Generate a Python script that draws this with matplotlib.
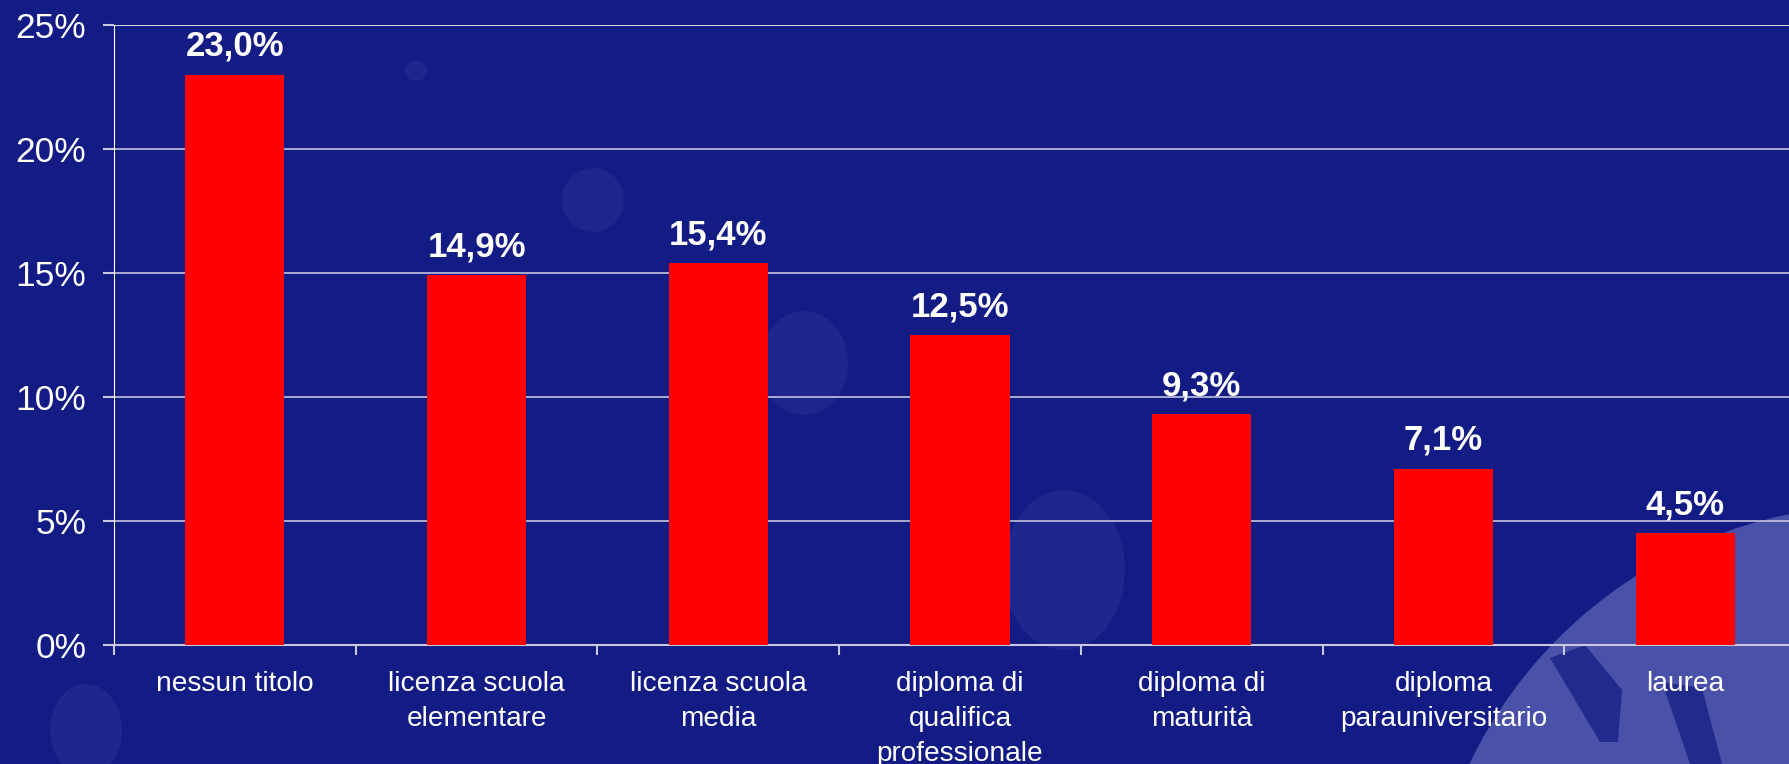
import matplotlib.pyplot as plt
import numpy as np
from matplotlib.patches import Ellipse, Polygon, Circle

categories = ['nessun titolo', 'licenza scuola\nelementare', 'licenza scuola\nmedia',
              'diploma di\nqualifica\nprofessionale', 'diploma di\nmaturità',
              'diploma\nparauniversitario', 'laurea']
values = [23.0, 14.9, 15.4, 12.5, 9.3, 7.1, 4.5]
labels = ['23,0%', '14,9%', '15,4%', '12,5%', '9,3%', '7,1%', '4,5%']
yticks = [0, 5, 10, 15, 20, 25]
ytick_labels = ['0%', '5%', '10%', '15%', '20%', '25%']

bg = '#131B84'
plt.rcParams['font.family'] = ['Liberation Sans', 'DejaVu Sans']

W, H = 1789, 764
fig = plt.figure(figsize=(W / 100, H / 100), dpi=100, facecolor=bg)

# background decoration (pixel coords)
bga = fig.add_axes([0, 0, 1, 1], zorder=0)
bga.set_xlim(0, W)
bga.set_ylim(H, 0)
bga.axis('off')
bga.set_facecolor(bg)
for (cx, cy, w, h) in [(416, 71, 22, 20), (593, 200, 62, 64), (804, 363, 88, 104),
                       (1064, 570, 122, 160), (86, 730, 72, 92)]:
    bga.add_patch(Ellipse((cx, cy), w, h, color='#1E278E', lw=0))
# globe / gear at bottom right
bga.add_patch(Circle((1880, 960), 455, color='#4A51A8', lw=0))
bga.add_patch(Polygon([(1550, 658), (1585, 645), (1622, 690), (1618, 742), (1600, 742)],
                      closed=True, color='#232A8E', lw=0))
bga.add_patch(Polygon([(1662, 682), (1702, 688), (1722, 764), (1690, 764)],
                      closed=True, color='#232A8E', lw=0))

ax = fig.add_axes([114 / W, 1 - 645 / H, 1692 / W, 620 / H], zorder=1)
ax.patch.set_alpha(0)
x = np.arange(len(values))
ax.bar(x, values, width=0.41, color='#FF0000', zorder=3)
for xi, v, lab in zip(x, values, labels):
    ax.annotate(lab, (xi, v), xytext=(0, 20.5), textcoords='offset points',
                ha='center', va='center', color='white', fontsize=25, fontweight='bold')

ax.set_xlim(-0.5, 6.5)
ax.set_ylim(0, 25)
ax.set_yticks(yticks)
ax.set_yticklabels(ytick_labels)
ax.set_xticks(np.arange(-0.5, 7, 1))
ax.set_xticklabels([])
ax.set_xticks(x, minor=True)
ax.set_xticklabels(categories, minor=True, linespacing=1.45)
ax.tick_params(axis='x', which='minor', length=0, pad=19, labelsize=20.2, labelcolor='white')
ax.tick_params(axis='x', which='major', length=7, color='#C8C8E0', width=1.5)
ax.tick_params(axis='y', length=8, color='#C8C8E0', width=1.5, pad=12,
               labelsize=25.5, labelcolor='white')
for t in yticks[1:]:
    ax.axhline(t, color='white' if t == 25 else '#C4C4DE', lw=1.2, zorder=1)
for s in ['top', 'right']:
    ax.spines[s].set_visible(False)
ax.spines['left'].set_color('white')
ax.spines['bottom'].set_color('#C8C8E0')
ax.spines['bottom'].set_linewidth(1.5)

fig.savefig('out.png', dpi=100, facecolor=bg)
